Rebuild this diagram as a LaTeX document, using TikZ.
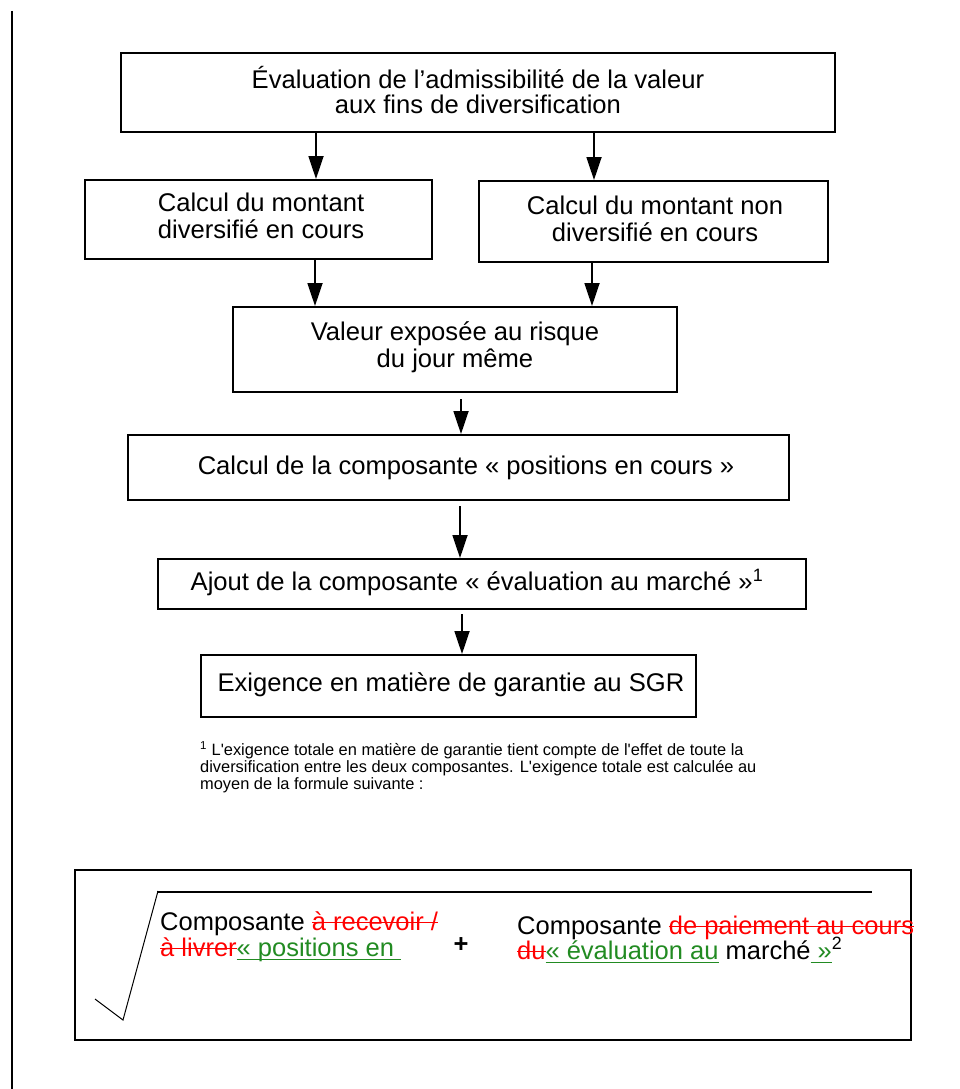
\documentclass[tikz,border=0pt]{standalone}
\usepackage{fontspec}
\setmainfont{Liberation Sans}
\usetikzlibrary{arrows.meta}
\definecolor{insgreen}{RGB}{34,139,34}
\definecolor{delred}{RGB}{255,0,0}
\newsavebox\markbox
\newcommand\mystrike[1]{\sbox\markbox{#1}\rlap{\rule[0.27em]{\wd\markbox}{1.4pt}}\usebox\markbox}
\newcommand\myunder[1]{\sbox\markbox{#1}\rlap{\rule[-0.17em]{\wd\markbox}{1.4pt}}\usebox\markbox}
\begin{document}
\begin{tikzpicture}[x=1pt,y=-1pt,
  box/.style={draw, line width=2pt, rectangle, inner sep=0pt},
  boxtext/.style={font=\fontsize{25.6}{27}\selectfont, align=center, inner sep=0pt},
  ftext/.style={font=\fontsize{25.5}{27}\selectfont, inner sep=0pt},
  notetext/.style={font=\fontsize{16.4}{17}\selectfont, align=left, inner sep=0pt},
  arr/.style={line width=1.8pt, -{Triangle[length=23pt,width=15pt]}}]
\useasboundingbox (0,0) rectangle (959,1089);
\fill[white] (0,0) rectangle (959,1089);
% left rule
\draw[line width=2pt] (12,11) -- (12,1089);
% boxes
\node[box, minimum width=714pt, minimum height=79pt] (top) at (478,92.5) {};
\node[boxtext, font=\fontsize{25.6}{24.5}\selectfont] (topt) at (478,90) {Évaluation de l’admissibilité de la valeur\\aux fins de diversification};
\node[box, minimum width=347pt, minimum height=79pt] (left) at (258.5,219.5) {};
\node[boxtext] (leftt) at (261,216) {Calcul du montant\\diversifié en cours};
\node[box, minimum width=349pt, minimum height=81pt] (right) at (653.5,221.5) {};
\node[boxtext] (rightt) at (655,218.5) {Calcul du montant non\\diversifié en cours};
\node[box, minimum width=444pt, minimum height=85pt] (mid) at (455,349.5) {};
\node[boxtext] (midt) at (455,347) {Valeur exposée au risque\\du jour même};
\node[box, minimum width=661pt, minimum height=65pt] (calc) at (458.5,467.5) {};
\node[boxtext] (calct) at (466,468) {Calcul de la composante «~positions en cours~»};
\node[box, minimum width=648pt, minimum height=50pt] (ajout) at (482,584) {};
\node[boxtext] (ajoutt) at (477,582) {Ajout de la composante «~évaluation au marché~»\textsuperscript{1}};
\node[box, minimum width=495pt, minimum height=62pt] (exig) at (448.5,686) {};
\node[boxtext] (exigt) at (451,685) {Exigence en matière de garantie au SGR};
% connectors
\coordinate (cA) at (316,0);
\coordinate (cB) at (594,0);
\coordinate (cC) at (315,0);
\coordinate (cD) at (592,0);
\coordinate (cE) at (461,0);
\coordinate (cF) at (460,0);
\coordinate (cG) at (462,0);
\draw[arr] (top.south -| cA) -- (left.north -| cA);
\draw[arr] (top.south -| cB) -- (right.north -| cB);
\draw[arr] (left.south -| cC) -- (mid.north -| cC);
\draw[arr] (right.south -| cD) -- (mid.north -| cD);
\path (mid.south -| cE) ++(0,6) coordinate (e1);
\draw[arr] (e1) -- (calc.north -| cE);
\path (calc.south -| cF) ++(0,5) coordinate (e2);
\draw[arr] (e2) -- (ajout.north -| cF);
\path (ajout.south -| cG) ++(0,4) coordinate (e3);
\draw[arr] (e3) -- (exig.north -| cG);
% footnote
\node[notetext, anchor=north west] (note) at (200,741) {\textsuperscript{1} L\textquotesingle exigence totale en matière de garantie tient compte de l\textquotesingle effet de toute la\\diversification entre les deux composantes. L\textquotesingle exigence totale est calculée au\\moyen de la formule suivante :};
% formula
\node[box, minimum width=836pt, minimum height=170pt] (fbox) at (493,955) {};
\draw[line width=1pt] (95,999) -- (123,1020) -- (158,891);
\draw[line width=2pt] (157,892) -- (872,892);
\node[ftext, anchor=base west] (f1a) at (160,930) {Composante \textcolor{delred}{\mystrike{à recevoir /}}};
\node[ftext, anchor=base west] (f1b) at (160,956) {\textcolor{delred}{\mystrike{à livrer}}\textcolor{insgreen}{\myunder{«~positions en\ }}};
\node[ftext, font=\bfseries\fontsize{25.5}{27}\selectfont] (plus) at (461,945) {+};
\node[ftext, anchor=base west] (f2a) at (517,934) {Composante \textcolor{delred}{\mystrike{de paiement au cours}}};
\node[ftext, anchor=base west] (f2b) at (517,959) {\textcolor{delred}{\mystrike{du}}\textcolor{insgreen}{\myunder{«~évaluation au}} marché\textcolor{insgreen}{\myunder{\ »}}\textsuperscript{2}};
\end{tikzpicture}
\end{document}
